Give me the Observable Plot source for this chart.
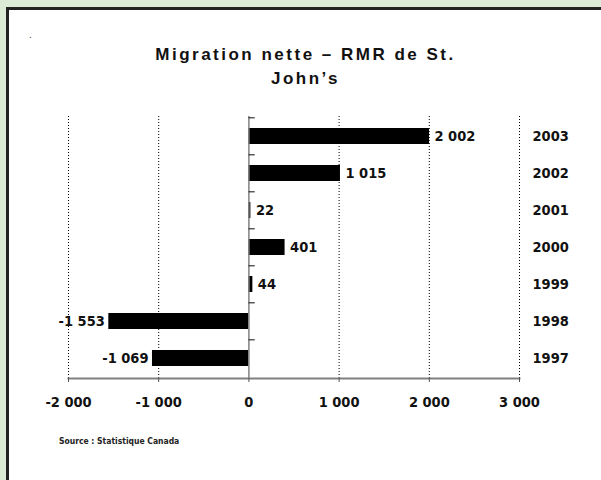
<!DOCTYPE html>
<html>
<head>
<meta charset="utf-8">
<script src="https://cdn.jsdelivr.net/npm/d3@7"></script>
<script src="https://cdn.jsdelivr.net/npm/@observablehq/plot@0.6"></script>
<style>
  html, body { margin: 0; padding: 0; }
  body { width: 601px; height: 480px; background: #dcebd6; position: relative; overflow: hidden; }
  #panel { position: absolute; left: 6px; top: 7px; width: 700px; height: 600px;
           background: #fff; border-left: 3px solid #222; border-top: 3px solid #222; }
  #chart { position: absolute; left: 0; top: 0; }
  #title { position: absolute; left: 5px; top: 43px; width: 601px; text-align: center;
           font: bold 17px/24px "Liberation Sans", Arial, sans-serif; letter-spacing: 2.5px; color: #111; }
  #source { position: absolute; left: 59px; top: 436px;
            font: bold 8.5px "DejaVu Sans Condensed", "DejaVu Sans", sans-serif; color: #222; }
  #mark { position: absolute; left: 29px; top: 29px; font: 10px "Liberation Sans", sans-serif; color: #444; }
</style>
</head>
<body>
<div id="panel"></div>
<div id="chart"></div>
<div id="mark">.</div>
<div id="title">Migration nette – RMR de St.<br>John’s</div>
<div id="source">Source : Statistique Canada</div>
<script>
// Net migration, St. John's CMA, by year (top to bottom)
const years = ["2003", "2002", "2001", "2000", "1999", "1998", "1997"];
const netMigration = [2002, 1015, 22, 401, 44, -1553, -1069];
const xTicks = [-2000, -1000, 0, 1000, 2000, 3000];
const xGridValues = [-2000, -1000, 1000, 2000, 3000];

const rows = years.map((year, i) => ({year, value: netMigration[i]}));
const gains = rows.filter(d => d.value >= 0);
const losses = rows.filter(d => d.value < 0);

const fr = d3.formatLocale({decimal: ",", thousands: " ", grouping: [3], currency: ["", " $"], minus: "-"});
const fmt = fr.format(",d");

const plotTop = 116, plotBottom = 378;
const halfStep = (plotBottom - plotTop) / years.length / 2;

const chart = Plot.plot({
  width: 601,
  height: 480,
  marginLeft: 68,
  marginRight: 82,
  marginTop: plotTop,
  marginBottom: 480 - plotBottom,
  style: {
    background: "transparent",
    overflow: "visible",
    fontFamily: "'DejaVu Sans Condensed', 'DejaVu Sans', sans-serif",
    fontWeight: "bold",
    fontSize: "14.5px",
    color: "#111"
  },
  x: {domain: [-2000, 3000]},
  y: {domain: years, paddingInner: 0.57, paddingOuter: 0.285, align: 0.5},
  marks: [
    Plot.gridX(xGridValues, {stroke: "#000", strokeOpacity: 1, strokeWidth: 1, strokeDasharray: "1,2"}),
    Plot.barX(rows, {x: "value", y: "year", fill: "#000"}),
    Plot.ruleX([0], {stroke: "#808080", strokeWidth: 1.5}),
    Plot.ruleY(years, {y: d => d, x1: 0, x2: 70, dy: -halfStep, stroke: "#333", strokeWidth: 1.2}),
    Plot.frame({anchor: "bottom", stroke: "#808080", strokeWidth: 2}),
    Plot.axisX({ticks: xTicks, tickFormat: fmt, tickSize: 4, tickPadding: 14, stroke: "#555", label: null}),
    Plot.axisY({anchor: "right", tickSize: 0, tickPadding: 13, label: null}),
    // value labels just past the end of each bar
    Plot.text(gains, {x: "value", y: "year", text: d => fmt(d.value), textAnchor: "start", dx: 5, fill: "#111"}),
    Plot.text(losses, {x: "value", y: "year", text: d => fmt(d.value), textAnchor: "end", dx: -4, fill: "#111"})
  ]
});

document.getElementById("chart").appendChild(chart);
</script>
</body>
</html>
